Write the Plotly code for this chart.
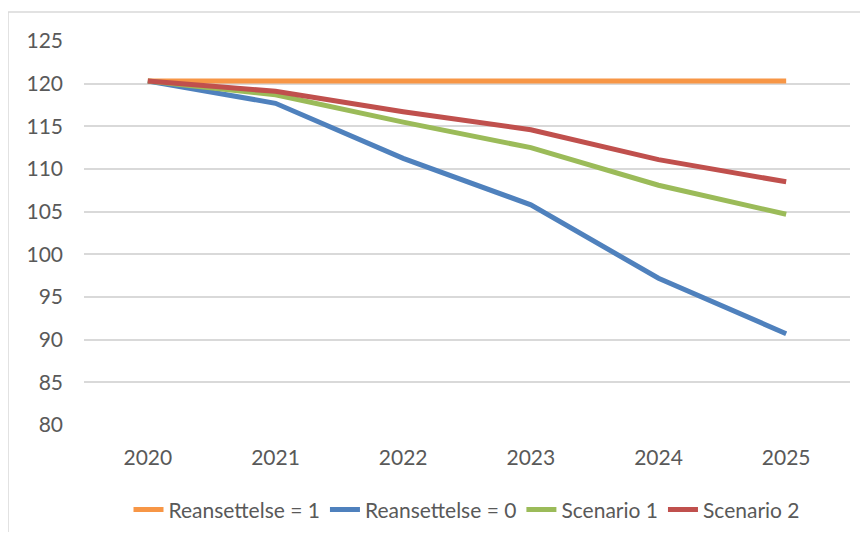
import plotly.graph_objects as go

# Data
years = ['2020', '2021', '2022', '2023', '2024', '2025']
reansettelse_1 = [120.3, 120.3, 120.3, 120.3, 120.3, 120.3]
reansettelse_0 = [120.3, 117.7, 111.25, 105.8, 97.2, 90.7]
scenario_1 = [120.3, 118.7, 115.5, 112.5, 108.1, 104.7]
scenario_2 = [120.3, 119.1, 116.7, 114.6, 111.1, 108.5]

series = [
    ('Reansettelse = 1', reansettelse_1, '#F79646'),
    ('Reansettelse = 0', reansettelse_0, '#4F81BD'),
    ('Scenario 1', scenario_1, '#9BBB59'),
    ('Scenario 2', scenario_2, '#C0504D'),
]

FONT = 'Lato, Calibri, Carlito, sans-serif'
TEXT_COLOR = '#595959'
GRID_COLOR = '#d9d9d9'

fig = go.Figure()
for name, values, color in series:
    fig.add_trace(go.Scatter(
        x=years, y=values, name=name, mode='lines',
        line=dict(color=color, width=5),
    ))

# page body has an 8px margin, so the figure is sized to fit inside it
fig.update_layout(
    width=852, height=524,
    margin=dict(l=76, r=10, t=33, b=107, autoexpand=False),
    paper_bgcolor='white', plot_bgcolor='white',
    font=dict(family=FONT, size=21, color=TEXT_COLOR),
    showlegend=True,
    legend=dict(
        orientation='h', x=0.5, xanchor='center', y=-0.221, yanchor='middle',
        font=dict(size=21, color=TEXT_COLOR), itemwidth=30,
        tracegroupgap=0,
    ),
    xaxis=dict(
        type='category', range=[-0.5, 5.5], showgrid=False, zeroline=False,
        showline=False, ticks='', ticklabelstandoff=18, automargin=False,
    ),
    yaxis=dict(
        range=[80, 125], dtick=5, tick0=80,
        showgrid=True, gridcolor=GRID_COLOR, gridwidth=1.5,
        zeroline=False, showline=False, ticks='', ticklabelstandoff=20,
        automargin=False,
    ),
    shapes=[
        # Chart area border (top and left, as in the source)
        dict(type='line', xref='paper', yref='paper',
             x0=-0.0992, x1=1.03, y0=1.0755, y1=1.0755,
             line=dict(color=GRID_COLOR, width=1.5)),
        dict(type='line', xref='paper', yref='paper',
             x0=-0.0992, x1=-0.0992, y0=1.0755, y1=-0.31,
             line=dict(color=GRID_COLOR, width=1.5)),
    ],
)

fig.write_html('out.html')
